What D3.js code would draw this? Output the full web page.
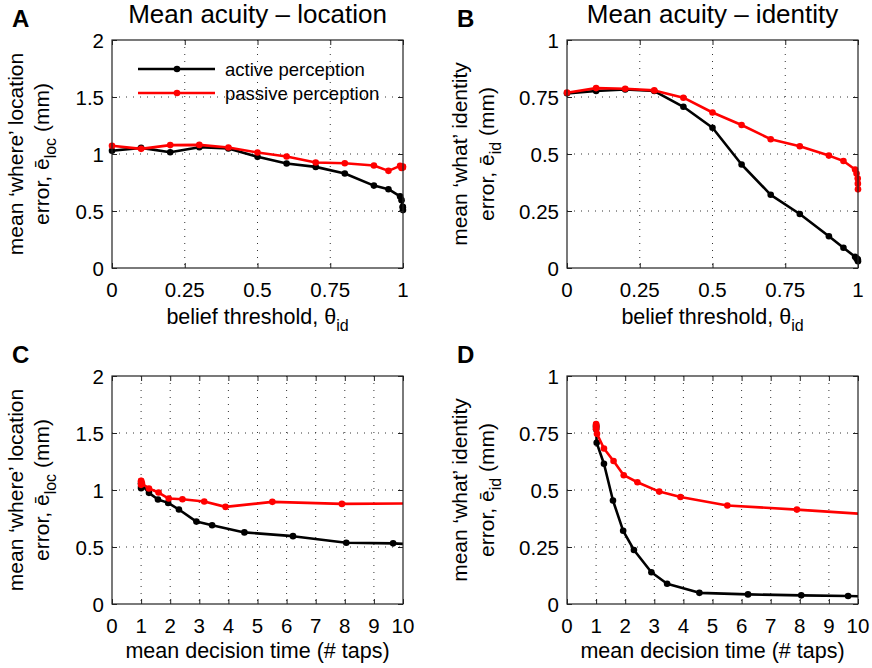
<!DOCTYPE html>
<html>
<head>
<meta charset="utf-8">
<script src="https://cdn.jsdelivr.net/npm/d3@7"></script>
<style>
  body { margin: 0; background: #fff; }
  svg { font-family: "Liberation Sans", Arial, sans-serif; }
</style>
</head>
<body>
<svg id="chart" width="872" height="668"></svg>
<script>
// belief thresholds shared by every panel
const thresholds = [0, 0.1, 0.2, 0.3, 0.4, 0.5, 0.6, 0.7, 0.8, 0.9, 0.95, 0.99, 0.995, 0.999, 0.9995, 0.9999]
// mean decision time (# taps)
const activeTime  = [1, 1, 1, 1, 1.02, 1.27, 1.58, 1.93, 2.3, 2.9, 3.44, 4.55, 6.22, 8.05, 9.66, 11.5]
const passiveTime = [1, 1, 1, 1, 1.03, 1.27, 1.6, 1.95, 2.42, 3.17, 3.9, 5.51, 7.9, 10.5, 14, 20]
// mean location error (mm)
const activeLoc  = [1.028, 1.054, 1.016, 1.06, 1.048, 0.975, 0.917, 0.887, 0.829, 0.723, 0.691, 0.628, 0.595, 0.537, 0.532, 0.508]
const passiveLoc = [1.072, 1.045, 1.078, 1.08, 1.057, 1.013, 0.978, 0.925, 0.919, 0.899, 0.852, 0.896, 0.878, 0.882, 0.89, 0.885]
// mean identity error (mm)
const activeId  = [0.766, 0.776, 0.783, 0.776, 0.707, 0.615, 0.454, 0.321, 0.237, 0.139, 0.089, 0.049, 0.042, 0.038, 0.035, 0.03]
const passiveId = [0.769, 0.789, 0.786, 0.779, 0.747, 0.682, 0.627, 0.565, 0.534, 0.493, 0.469, 0.432, 0.414, 0.392, 0.37, 0.345]

const thresholdTicks = [0, 0.25, 0.5, 0.75, 1]
const timeTicks = [0, 1, 2, 3, 4, 5, 6, 7, 8, 9, 10]
const locTicks = [0, 0.5, 1, 1.5, 2]
const idTicks = [0, 0.25, 0.5, 0.75, 1]
const seriesNames = ["active perception", "passive perception"]
const seriesColors = ["#000000", "#ff0000"]

const svg = d3.select("#chart")
const zip = (xs, ys) => xs.map((x, i) => [x, ys[i]])

const panels = [
  { id: "A", left: 112, top: 40, title: "Mean acuity \u2013 location", xTicks: thresholdTicks, yTicks: locTicks,
    xlab: "threshold", ylab: ["mean \u2018where\u2019 location", "loc"], labOff: [89, 63], legend: true,
    series: [zip(thresholds, activeLoc), zip(thresholds, passiveLoc)] },
  { id: "B", left: 567, top: 40, title: "Mean acuity \u2013 identity", xTicks: thresholdTicks, yTicks: idTicks,
    xlab: "threshold", ylab: ["mean \u2018what\u2019 identity", "id"], labOff: [100, 73],
    series: [zip(thresholds, activeId), zip(thresholds, passiveId)] },
  { id: "C", left: 112, top: 376, xTicks: timeTicks, yTicks: locTicks,
    xlab: "time", ylab: ["mean \u2018where\u2019 location", "loc"], labOff: [89, 63], clip: true,
    series: [zip(activeTime, activeLoc), zip(passiveTime, passiveLoc)] },
  { id: "D", left: 567, top: 376, xTicks: timeTicks, yTicks: idTicks,
    xlab: "time", ylab: ["mean \u2018what\u2019 identity", "id"], labOff: [100, 73], clip: true,
    series: [zip(activeTime, activeId), zip(passiveTime, passiveId)] }
]

const W = 291, H = 228

panels.forEach(p => {
  const x = d3.scaleLinear().domain(d3.extent(p.xTicks)).range([p.left, p.left + W])
  const y = d3.scaleLinear().domain(d3.extent(p.yTicks)).range([p.top + H, p.top])
  const g = svg.append("g").attr("class", "panel-" + p.id)

  // dotted grid
  g.append("g").selectAll("line").data(p.xTicks.slice(1, -1)).join("line")
    .attr("x1", d => x(d)).attr("x2", d => x(d)).attr("y1", p.top).attr("y2", p.top + H)
    .attr("stroke", "#333").attr("stroke-width", 1).attr("stroke-dasharray", "1,6")
  g.append("g").selectAll("line").data(p.yTicks.slice(1, -1)).join("line")
    .attr("y1", d => y(d)).attr("y2", d => y(d)).attr("x1", p.left).attr("x2", p.left + W)
    .attr("stroke", "#333").attr("stroke-width", 1).attr("stroke-dasharray", "1,6")

  // data
  const clipId = "clip-" + p.id
  svg.append("clipPath").attr("id", clipId).append("rect")
    .attr("x", p.left).attr("y", p.top - 10).attr("width", W).attr("height", H + 20)
  const dataG = g.append("g")
  if (p.clip) dataG.attr("clip-path", `url(#${clipId})`)
  const line = d3.line().x(d => x(d[0])).y(d => y(d[1]))
  p.series.forEach((s, i) => {
    dataG.append("path").datum(s).attr("d", line).attr("fill", "none")
      .attr("stroke", seriesColors[i]).attr("stroke-width", 2.6).attr("stroke-linejoin", "round")
    dataG.append("g").selectAll("circle").data(s).join("circle")
      .attr("cx", d => x(d[0])).attr("cy", d => y(d[1])).attr("r", 3.3).attr("fill", seriesColors[i])
  })

  // axes box with inward ticks on all sides
  const tick = 5
  g.append("rect").attr("x", p.left).attr("y", p.top).attr("width", W).attr("height", H)
    .attr("fill", "none").attr("stroke", "#222").attr("stroke-width", 1.2)
  const xb = d3.axisBottom(x).tickValues(p.xTicks).tickSizeInner(-tick).tickSizeOuter(0).tickFormat("")
  const xt = d3.axisTop(x).tickValues(p.xTicks).tickSizeInner(-tick).tickSizeOuter(0).tickFormat("")
  const yl = d3.axisLeft(y).tickValues(p.yTicks).tickSizeInner(-tick).tickSizeOuter(0).tickFormat("")
  const yr = d3.axisRight(y).tickValues(p.yTicks).tickSizeInner(-tick).tickSizeOuter(0).tickFormat("")
  ;[[xb, `translate(0,${p.top + H})`], [xt, `translate(0,${p.top})`],
    [yl, `translate(${p.left},0)`], [yr, `translate(${p.left + W},0)`]].forEach(([ax, tr]) => {
    const a = g.append("g").attr("transform", tr).call(ax)
    a.select(".domain").remove()
    a.selectAll("line").attr("stroke", "#222")
  })

  // tick labels
  g.append("g").selectAll("text").data(p.xTicks).join("text")
    .attr("x", d => x(d)).attr("y", p.top + H + 29).attr("text-anchor", "middle")
    .attr("font-size", 20.5).text(d => d)
  g.append("g").selectAll("text").data(p.yTicks).join("text")
    .attr("x", p.left - 8).attr("y", d => y(d) + 7.5).attr("text-anchor", "end")
    .attr("font-size", 20.5).text(d => d)

  // x label
  const xl = g.append("text").attr("x", p.left + W / 2).attr("text-anchor", "middle").attr("font-size", 21.5)
  if (p.xlab === "threshold") {
    xl.attr("y", p.top + H + 56)
    xl.append("tspan").text("belief threshold, \u03b8")
    xl.append("tspan").attr("dy", 7).attr("font-size", 16).text("id")
  } else {
    xl.attr("y", p.top + H + 54).text("mean decision time (# taps)")
  }

  // y label (two lines)
  const cy = p.top + H / 2
  g.append("text").attr("transform", `translate(${p.left - p.labOff[0]},${cy}) rotate(-90)`)
    .attr("text-anchor", "middle").attr("font-size", 21).text(p.ylab[0])
  const yl2 = g.append("text").attr("transform", `translate(${p.left - p.labOff[1]},${cy}) rotate(-90)`)
    .attr("text-anchor", "middle").attr("font-size", 21)
  yl2.append("tspan").text("error, \u0113")
  yl2.append("tspan").attr("dy", 7).attr("font-size", 16).text(p.ylab[1])
  yl2.append("tspan").attr("dy", -7).text(" (mm)")

  // title and panel letter
  if (p.title) {
    svg.append("text").attr("x", p.left + W / 2).attr("y", 23).attr("text-anchor", "middle")
      .attr("font-size", 26).text(p.title)
  }
  svg.append("text").attr("x", p.left - (p.id === "A" || p.id === "C" ? 100 : 110))
    .attr("y", p.top - 13).attr("font-size", 24).attr("font-weight", "bold").text(p.id)

  // legend
  if (p.legend) {
    seriesNames.forEach((name, i) => {
      const ly = 69 + i * 24
      const lg = g.append("g")
      lg.append("line").attr("x1", 138).attr("x2", 215).attr("y1", ly).attr("y2", ly)
        .attr("stroke", seriesColors[i]).attr("stroke-width", 2.6)
      lg.append("circle").attr("cx", 177).attr("cy", ly).attr("r", 3.3).attr("fill", seriesColors[i])
      lg.append("text").attr("x", 225).attr("y", ly + 6.5).attr("font-size", 18.5).text(name)
    })
  }
})
</script>
</body>
</html>
